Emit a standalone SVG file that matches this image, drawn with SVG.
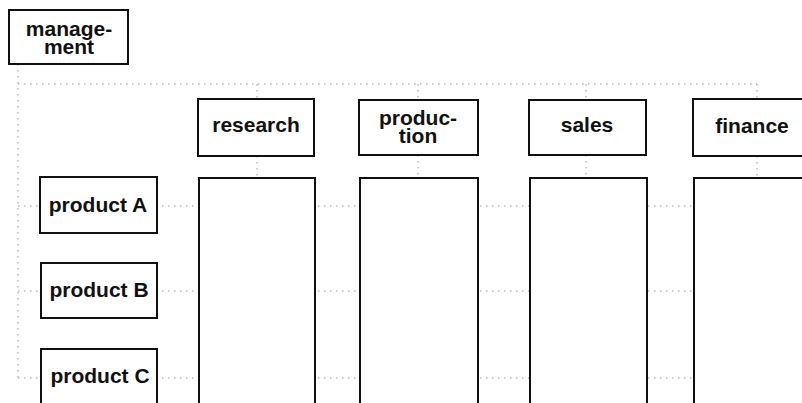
<svg xmlns="http://www.w3.org/2000/svg" width="802" height="403" viewBox="0 0 802 403">
  <style>
    .box { fill: #ffffff; stroke: #111111; stroke-width: 2; }
    .lbl { font-family: "Liberation Sans", Arial, sans-serif; font-size: 21px; font-weight: bold; fill: #111111; text-anchor: middle; }
    .dot { fill: none; stroke: #9a9a9a; stroke-width: 1; stroke-dasharray: 1.5 4.5; }
  </style>
  <rect width="802" height="403" fill="#ffffff"/>

  <!-- dotted reporting lines -->
  <g id="connectors">
    <path class="dot" d="M18 64 V378"/>
    <path class="dot" d="M18 84 H757"/>
    <path class="dot" d="M257 84 V99 M257 156 V178"/>
    <path class="dot" d="M418 84 V100 M418 155 V178"/>
    <path class="dot" d="M586 84 V100 M586 155 V178"/>
    <path class="dot" d="M757 84 V99 M757 156 V178"/>
    <path class="dot" d="M18 206 H802"/>
    <path class="dot" d="M18 291 H802"/>
    <path class="dot" d="M18 378 H802"/>
  </g>

  <g id="management">
    <rect class="box" x="9" y="10" width="119" height="54"/>
    <text class="lbl" x="69" y="36">manage-</text>
    <text class="lbl" x="69" y="54">ment</text>
  </g>

  <g id="research">
    <rect class="box" x="198" y="99" width="116" height="57"/>
    <text class="lbl" x="256" y="132">research</text>
  </g>
  <g id="research-column">
    <rect class="box" x="199" y="178" width="116" height="235"/>
  </g>

  <g id="production">
    <rect class="box" x="359" y="100" width="119" height="55"/>
    <text class="lbl" x="418" y="125">produc-</text>
    <text class="lbl" x="418" y="143">tion</text>
  </g>
  <g id="production-column">
    <rect class="box" x="360" y="178" width="118" height="235"/>
  </g>

  <g id="sales">
    <rect class="box" x="529" y="100" width="117" height="55"/>
    <text class="lbl" x="587" y="132">sales</text>
  </g>
  <g id="sales-column">
    <rect class="box" x="530" y="178" width="117" height="235"/>
  </g>

  <g id="finance">
    <rect class="box" x="693" y="99" width="120" height="57"/>
    <text class="lbl" x="752" y="133">finance</text>
  </g>
  <g id="finance-column">
    <rect class="box" x="694" y="178" width="120" height="235"/>
  </g>

  <g id="product-a">
    <rect class="box" x="40" y="177" width="117" height="56"/>
    <text class="lbl" x="98" y="212">product A</text>
  </g>
  <g id="product-b">
    <rect class="box" x="41" y="263" width="116" height="55"/>
    <text class="lbl" x="99" y="297">product B</text>
  </g>
  <g id="product-c">
    <rect class="box" x="41" y="349" width="116" height="64"/>
    <text class="lbl" x="100" y="383">product C</text>
  </g>
</svg>
